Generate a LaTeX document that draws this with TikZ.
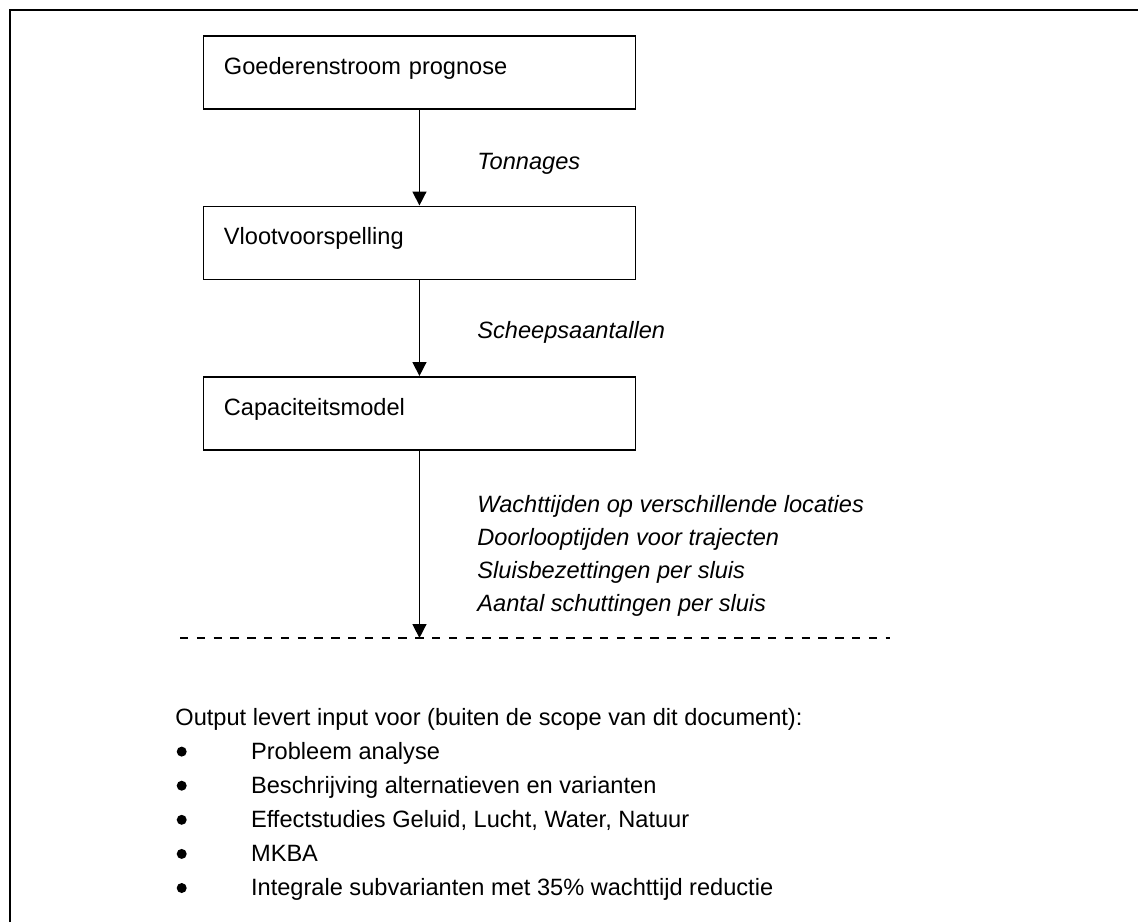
\documentclass[tikz,border=0pt]{standalone}
\usepackage{fontspec}
\setmainfont{Liberation Sans}
\usetikzlibrary{arrows.meta,positioning}

\tikzset{
  stage/.style={draw, line width=0.75pt, anchor=north west, align=left,
    text width=195.5pt, inner xsep=10.25pt, inner ysep=0pt,
    text height=19.15pt, text depth=17.35pt},
  flow/.style={line width=0.75pt, -{Triangle[length=7pt,width=7pt]}},
  flowlabel/.style={font=\fontsize{11.8}{16.7}\selectfont\itshape, anchor=base west, inner sep=0pt},
  plain/.style={anchor=base west, inner sep=0pt},
  dot/.style={circle, fill, inner sep=0pt, minimum size=5pt},
}

\begin{document}
\begin{tikzpicture}[x=0.5pt, y=-0.5pt, font=\fontsize{11.8}{16.7}\selectfont, node distance=48pt]
    \useasboundingbox (0,0) rectangle (1138,922);
    \draw[line width=1pt] (10,922) -- (10,10) -- (1138,10);

    % model chain
    \node[stage] (goods) at (202.7,35) {Goederenstroom prognose};
    \node[stage, below=of goods] (fleet) {Vlootvoorspelling};
    \node[stage, below=of fleet] (model) {Capaciteitsmodel};

    \coordinate (cutleft) at (180,638);
    \coordinate (cutright) at (890,638);
    \coordinate (cut) at (model.south |- cutleft);

    \draw[flow] (goods) -- (fleet);
    \draw[flow] (fleet) -- (model);
    \draw[flow] (model) -- (cut);
    \draw[line width=0.75pt, dash pattern=on 4.2pt off 4.2pt] (cutleft) -- (cutright);

    \node[flowlabel] (tons) at (477,169.3) {Tonnages};
    \node[flowlabel] (ships) at (477,338.3) {Scheepsaantallen};
    \foreach \t [count=\i] in {Wachttijden op verschillende locaties,
        Doorlooptijden voor trajecten, Sluisbezettingen per sluis,
        Aantal schuttingen per sluis} {
      \node[flowlabel] (res\i) at (477,478.7+\i*33.3) {\t};
    }

    % output
    \node[plain] (outhead) at (175,725) {Output levert input voor (buiten de scope van dit document):};
    \foreach \t [count=\i] in {Probleem analyse,
        Beschrijving alternatieven en varianten,
        {Effectstudies Geluid, Lucht, Water, Natuur}, MKBA,
        Integrale subvarianten met 35\% wachttijd reductie} {
      \node[dot] (dot\i) at (181.7,717.5+\i*34.1) {};
      \node[plain] (item\i) at (250.7,725+\i*34.1) {\t};
    }
  \end{tikzpicture}
\end{document}
